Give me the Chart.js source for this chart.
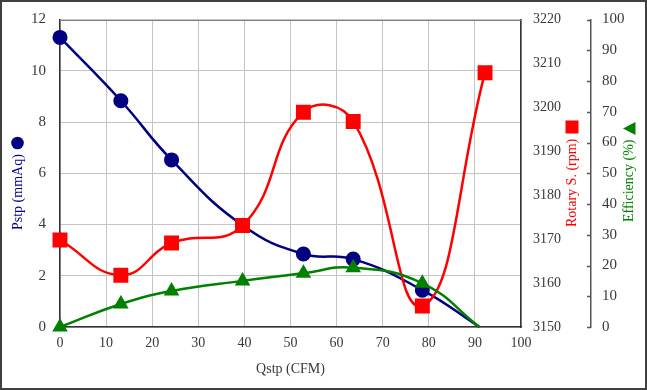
<!DOCTYPE html>
<html>
<head>
<meta charset="utf-8">
<script src="https://cdn.jsdelivr.net/npm/chart.js@4/dist/chart.umd.min.js"></script>
<style>
html,body{margin:0;padding:0;background:#fff;}
#wrap{position:absolute;left:0;top:0;width:647px;height:390px;}
</style>
</head>
<body>
<div id="wrap"><canvas id="c" width="647" height="390"></canvas></div>
<script>
// ---- data ----
const qstp      = [0, 13.2, 24.2, 39.6, 52.8, 63.6, 78.6, 91.0];
const pstp      = [11.3, 8.83, 6.52, 3.97, 2.85, 2.65, 1.44, 0];
const rpmQ      = [0, 13.2, 24.2, 39.6, 52.8, 63.6, 78.6, 92.2];
const rpm       = [3169.8, 3161.8, 3169.1, 3173.1, 3198.9, 3196.8, 3154.8, 3207.9];
const eff       = [0, 7.5, 11.7, 15.0, 17.5, 19.3, 14.2, 0];
const xRange    = [0, 100, 10];
const pRange    = [0, 12, 2];
const rpmRange  = [3150, 3220, 10];
const effRange  = [0, 100, 10];
const xTitle    = 'Qstp (CFM)';
const pTitle    = 'Pstp (mmAq)';
const rpmTitle  = 'Rotary S. (rpm)';
const effTitle  = 'Efficiency (%)';

const FONT = "'Liberation Serif', 'Times New Roman', serif";
const NAVY = '#000080', RED = '#ff0000', GREEN = '#008000';
const TICKC = '#383838';

function pts(xs, ys){ return xs.map((x,i)=>({x:x, y:ys[i]})); }
function lastHidden(arr, r){ return arr.map((_,i)=> i===arr.length-1 ? 0 : r); }
const plain = v => String(v);
function fixV(w){ return s => { s.width = w; s.paddingTop = 0; s.paddingBottom = 0; }; }

const decor = {
  id:'decor',
  afterDraw(chart){
    const ctx = chart.ctx, a = chart.chartArea;
    const y2 = chart.scales.y2;
    ctx.save();
    // top border of plot
    ctx.strokeStyle = '#808080'; ctx.lineWidth = 1;
    ctx.beginPath(); ctx.moveTo(a.left, Math.round(a.top)+0.5); ctx.lineTo(a.right, Math.round(a.top)+0.5); ctx.stroke();
    // inward tick marks on efficiency axis
    ctx.strokeStyle = '#555'; ctx.lineWidth = 1.5;
    y2.ticks.forEach(t=>{
      const y = Math.round(y2.getPixelForValue(t.value))+0.5;
      ctx.beginPath(); ctx.moveTo(y2.left-4, y); ctx.lineTo(y2.left, y); ctx.stroke();
    });
    // axis titles (rotated, reading bottom to top)
    ctx.font = '14px ' + FONT;
    ctx.textBaseline = 'middle'; ctx.textAlign = 'left';
    function vtext(txt, x, yStart, color){
      ctx.save(); ctx.translate(x, yStart); ctx.rotate(-Math.PI/2);
      ctx.fillStyle = color; ctx.fillText(txt, 0, 0); ctx.restore();
    }
    vtext(pTitle, 18.5, 230, NAVY);
    vtext(rpmTitle, 572, 227, RED);
    vtext(effTitle, 629.5, 222, GREEN);
    // symbols
    ctx.fillStyle = NAVY;
    ctx.beginPath(); ctx.arc(17.5, 143, 6.3, 0, Math.PI*2); ctx.fill();
    ctx.fillStyle = RED;
    ctx.fillRect(565.5, 120.5, 13, 13);
    ctx.fillStyle = GREEN;
    ctx.beginPath(); ctx.moveTo(623, 128.5); ctx.lineTo(635.5, 122); ctx.lineTo(635.5, 135); ctx.closePath(); ctx.fill();
    // outer frame
    ctx.strokeStyle = '#404040'; ctx.lineWidth = 2;
    ctx.strokeRect(1, 1, 645, 388);
    ctx.restore();
  }
};

new Chart(document.getElementById('c'), {
  type: 'scatter',
  data: {
    datasets: [
      { label: effTitle, data: pts(qstp, eff), yAxisID: 'y2', showLine: true,
        borderColor: GREEN, backgroundColor: GREEN, borderWidth: 2.5,
        pointStyle: 'triangle', pointRadius: lastHidden(eff, 6.5), pointHoverRadius: 6.5,
        tension: 0.45, clip: 12 },
      { label: rpmTitle, data: pts(rpmQ, rpm), yAxisID: 'y1', showLine: true,
        borderColor: RED, backgroundColor: RED, borderWidth: 2.5,
        pointStyle: 'rect', pointRadius: 8.8, pointHoverRadius: 8.8,
        tension: 0.45, clip: 12 },
      { label: pTitle, data: pts(qstp, pstp), yAxisID: 'y', showLine: true,
        borderColor: NAVY, backgroundColor: NAVY, borderWidth: 2.5,
        pointStyle: 'circle', pointRadius: lastHidden(pstp, 6.3), pointHoverRadius: 6.3,
        tension: 0.45, clip: 12 }
    ]
  },
  options: {
    responsive: false,
    animation: false,
    events: [],
    layout: { autoPadding: false, padding: { top: 19.5, right: 0, bottom: 0, left: 0 } },
    plugins: { legend: { display: false }, tooltip: { enabled: false } },
    scales: {
      x: {
        type: 'linear', position: 'bottom',
        min: xRange[0], max: xRange[1],
        ticks: { stepSize: xRange[2], color: TICKC, font: { family: FONT, size: 14 }, padding: 8, callback: plain },
        grid: { color: '#c4c4c4', lineWidth: 1, drawTicks: false },
        border: { display: true, color: '#333', width: 1.5 },
        title: { display: true, text: xTitle, color: TICKC, font: { family: FONT, size: 14 }, padding: { top: 0, bottom: 12 } },
        afterFit(s){ s.height = 63; s.paddingLeft = 0; s.paddingRight = 0; }
      },
      y: {
        type: 'linear', position: 'left',
        min: pRange[0], max: pRange[1],
        ticks: { stepSize: pRange[2], color: TICKC, font: { family: FONT, size: 15 }, padding: 14, callback: plain },
        grid: { color: '#c4c4c4', lineWidth: 1, drawTicks: false },
        border: { display: true, color: '#333', width: 1.5 },
        afterFit: fixV(60)
      },
      y1: {
        type: 'linear', position: 'right',
        min: rpmRange[0], max: rpmRange[1],
        ticks: { stepSize: rpmRange[2], color: TICKC, font: { family: FONT, size: 14 }, padding: 12, callback: plain },
        grid: { drawOnChartArea: false, drawTicks: false },
        border: { display: true, color: '#333', width: 1.5 },
        afterFit: fixV(70)
      },
      y2: {
        type: 'linear', position: 'right',
        min: effRange[0], max: effRange[1],
        ticks: { stepSize: effRange[2], color: TICKC, font: { family: FONT, size: 15 }, padding: 11, callback: plain },
        grid: { drawOnChartArea: false, drawTicks: false },
        border: { display: true, color: '#555', width: 1.5 },
        afterFit: fixV(56)
      }
    }
  },
  plugins: [decor]
});
</script>
</body>
</html>
